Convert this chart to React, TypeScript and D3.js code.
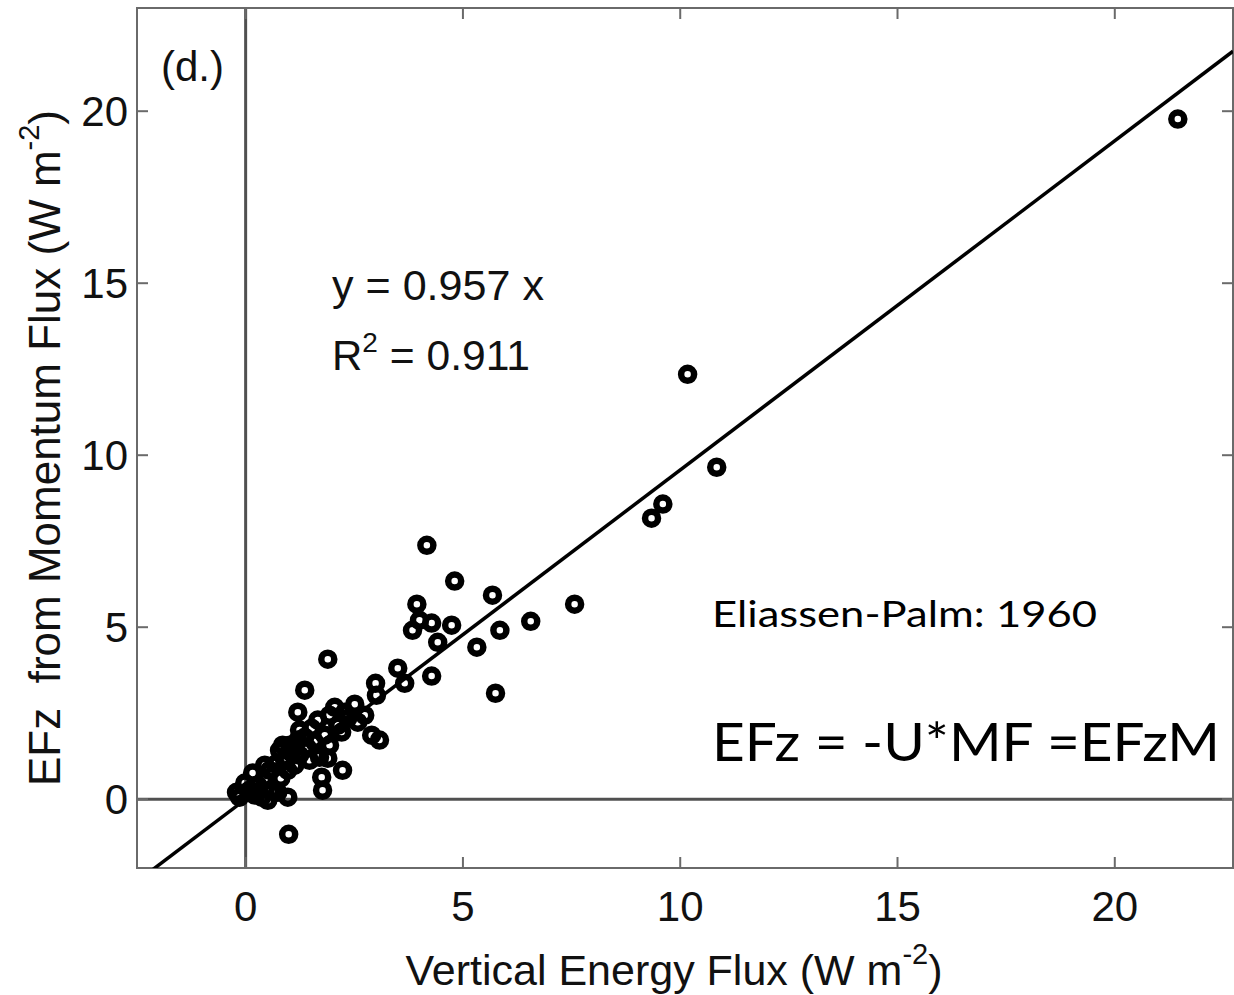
import React from "react";
import * as d3 from "d3";

// Vertical Energy Flux (x) vs EFz from Momentum Flux (y), W m^-2
const xValues = [
  21.45, 10.17, 10.84, 9.6, 9.34, 7.57, 6.56, 5.68, 5.85, 5.75, 5.32, 4.81, 4.17,
  4.74, 4.42, 4.28, 4.0, 3.94, 3.84, 4.28, 3.66, 3.5, 2.99, 3.01, 3.08, 2.9,
  1.89, 1.36, 0.99, 1.2,
  -0.21, -0.02, -0.14, 0.09, 0.16, 0.28, 0.37, 0.44, 0.55, 0.6, 0.69, 0.74, 0.81,
  0.9, 0.97, 1.01, 1.06, 0.97, 1.13, 1.2, 1.24, 1.36, 1.43, 1.52, 1.59, 1.66,
  1.7, 1.75, 1.77, 1.82, 1.89, 1.93, 2.05, 2.12, 2.21, 2.23, 2.35, 2.51, 2.58,
  2.74, 0.85, 0.44, 1.24, 1.47, 1.93, 2.28, 0.78, 0.21, 0.51,
];
const yValues = [
  19.77, 12.35, 9.65, 8.58, 8.17, 5.67, 5.17, 5.93, 4.91, 3.08, 4.42, 6.34, 7.38,
  5.06, 4.56, 5.12, 5.2, 5.67, 4.91, 3.58, 3.37, 3.81, 3.37, 3.02, 1.72, 1.86,
  4.07, 3.17, -1.02, 2.53,
  0.2, 0.47, 0.06, 0.26, 0.76, 0.41, 0.06, 0.55, 0.84, 0.26, 1.02, 0.2, 0.61,
  1.13, 0.06, 1.57, 1.34, 0.84, 0.99, 1.72, 1.28, 1.8, 1.48, 2.06, 1.66, 2.3,
  1.22, 0.64, 0.26, 1.86, 1.19, 2.44, 2.67, 2.15, 1.95, 0.84, 2.35, 2.76, 2.24,
  2.44, 1.57, 0.99, 2.01, 1.13, 1.57, 2.53, 1.42, 0.12, -0.03,
];
const xTicks = [0, 5, 10, 15, 20];
const yTicks = [0, 5, 10, 15, 20];
const fitSlope = 0.957;

const W = 1234;
const H = 995;
const L = 137, R = 1233, T = 8, B = 868;

export default function App() {
  const x = d3.scaleLinear().domain([-2.5, 22.72]).range([L, R]);
  const y = d3.scaleLinear().domain([-2, 23]).range([B, T]);
  const [x0, x1] = x.domain();
  const fit = d3
    .line<number>()
    .x((d) => x(d))
    .y((d) => y(fitSlope * d));
  const helv = "'Liberation Sans', Arial, Helvetica, sans-serif";
  const cal = "Lato, 'Open Sans', sans-serif";
  const frame = "#6a6a6a";
  const tickLen = 11;
  const fs = 42;
  return (
    <svg
      width={W}
      height={H}
      style={{ position: "absolute", left: 0, top: 0, background: "#fff" }}
    >
      <defs>
        <clipPath id="plotclip">
          <rect x={L} y={T} width={R - L} height={B - T} />
        </clipPath>
      </defs>
      <rect x={0} y={0} width={W} height={H} fill="#fff" />
      {/* zero lines */}
      <line x1={x(0)} x2={x(0)} y1={T} y2={B} stroke="#505050" strokeWidth={3} />
      <line x1={L} x2={R} y1={y(0)} y2={y(0)} stroke="#505050" strokeWidth={3} />
      {/* frame */}
      <rect x={L} y={T} width={R - L} height={B - T} fill="none" stroke={frame} strokeWidth={2} />
      {/* ticks */}
      {xTicks.map((t) => (
        <g key={"xt" + t}>
          <line x1={x(t)} x2={x(t)} y1={B} y2={B - tickLen} stroke={frame} strokeWidth={2} />
          <line x1={x(t)} x2={x(t)} y1={T} y2={T + tickLen} stroke={frame} strokeWidth={2} />
          <text x={x(t)} y={921} textAnchor="middle" fontFamily={helv} fontSize={fs} fill="#111">
            {t}
          </text>
        </g>
      ))}
      {yTicks.map((t) => (
        <g key={"yt" + t}>
          <line x1={L} x2={L + tickLen} y1={y(t)} y2={y(t)} stroke={frame} strokeWidth={2} />
          <line x1={R} x2={R - tickLen} y1={y(t)} y2={y(t)} stroke={frame} strokeWidth={2} />
          <text x={128} y={y(t) + 15} textAnchor="end" fontFamily={helv} fontSize={fs} fill="#111">
            {t}
          </text>
        </g>
      ))}
      {/* fit line */}
      <g clipPath="url(#plotclip)">
        <path d={fit([x0, x1]) || ""} fill="none" stroke="#000" strokeWidth={3.5} />
        {xValues.map((v, i) => (
          <circle
            key={"p" + i}
            cx={x(v)}
            cy={y(yValues[i])}
            r={6.5}
            fill="none"
            stroke="#000"
            strokeWidth={6.5}
          />
        ))}
      </g>
      {/* annotations */}
      <text x={161} y={81} fontFamily={helv} fontSize={fs} fill="#111">(d.)</text>
      <text x={332} y={300} fontFamily={helv} fontSize={fs} fill="#111" textLength={212} lengthAdjust="spacingAndGlyphs">
        y = 0.957 x
      </text>
      <text x={332} y={370} fontFamily={helv} fontSize={fs} fill="#111">
        R<tspan dy={-18} fontSize={28}>2</tspan>
        <tspan dy={18} textLength={152} lengthAdjust="spacingAndGlyphs"> = 0.911</tspan>
      </text>
      <text x={712} y={627} fontFamily={cal} fontSize={36} fill="#000" textLength={385} lengthAdjust="spacingAndGlyphs">
        Eliassen-Palm: 1960
      </text>
      <text x={712} y={761} fontFamily={cal} fontSize={52} fill="#000" textLength={508} lengthAdjust="spacingAndGlyphs">
        EFz = -U*MF =EFzM
      </text>
      {/* axis labels */}
      <text x={674} y={985} textAnchor="middle" fontFamily={helv} fontSize={43} fill="#111">
        Vertical Energy Flux (W m<tspan dy={-21} fontSize={29}>-2</tspan>
        <tspan dy={21}>)</tspan>
      </text>
      <text
        transform="translate(60,448) rotate(-90)"
        textAnchor="middle"
        fontFamily={helv}
        fontSize={44}
        fill="#111"
        style={{ whiteSpace: "pre" }}
      >
        {"EFz  from Momentum Flux (W m"}
        <tspan dy={-21} fontSize={29}>-2</tspan>
        <tspan dy={21}>)</tspan>
      </text>
    </svg>
  );
}
